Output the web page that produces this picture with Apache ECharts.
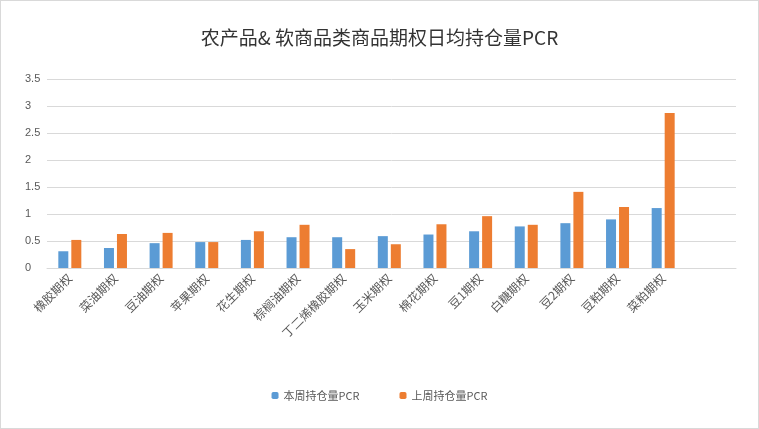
<!DOCTYPE html>
<html><head><meta charset="utf-8">
<script src="https://cdn.jsdelivr.net/npm/echarts@6/dist/echarts.min.js"></script>
<style>body{margin:0}#c{width:757px;height:427px;border:1px solid #d9d9d9}</style>
</head><body><div id="c"></div>
<script>
var categories = ['橡胶期权','菜油期权','豆油期权','苹果期权','花生期权','棕榈油期权','丁二烯橡胶期权','玉米期权','棉花期权','豆1期权','白糖期权','豆2期权','豆粕期权','菜粕期权'];
var thisWeek = [0.31,0.37,0.46,0.48,0.52,0.57,0.57,0.59,0.62,0.68,0.77,0.83,0.90,1.11];
var lastWeek = [0.52,0.63,0.65,0.48,0.68,0.80,0.35,0.44,0.81,0.96,0.80,1.41,1.13,2.87];
var font = '"Noto Sans CJK SC", sans-serif';
var chart = echarts.init(document.getElementById('c'));
chart.setOption({
  animation: false,
  title: {text: '农产品& 软商品类商品期权日均持仓量PCR', left: 'center', top: 22,
    textStyle: {fontSize: 19, fontWeight: 'normal', color: '#333', fontFamily: font}},
  legend: {bottom: 22, itemWidth: 7, itemHeight: 7, itemGap: 40,
    textStyle: {fontSize: 11, color: '#595959', fontFamily: font}},
  grid: [{left: 46, right: 72, top: 78, bottom: 160}, {left: 46, right: 22, top: 78, bottom: 160}],
  xAxis: [{type: 'category', data: categories, gridIndex: 0,
    axisLine: {show: false}, axisTick: {show: false},
    axisLabel: {rotate: 45, fontSize: 12, color: '#595959', fontFamily: font, margin: 8}},
    {type: 'category', gridIndex: 1, data: [''], axisLine: {lineStyle: {color: '#d9d9d9'}}, axisTick: {show: false}, axisLabel: {show: false}}],
  yAxis: [{type: 'value', min: 0, max: 3.5, interval: 0.5, gridIndex: 0,
    axisLine: {show: false}, axisTick: {show: false},
    axisLabel: {fontSize: 11, color: '#595959', margin: 22, align: 'left'},
    splitLine: {show: false}},
    {type: 'value', min: 0, max: 3.5, interval: 0.5, gridIndex: 1,
    axisLine: {show: false}, axisTick: {show: false}, axisLabel: {show: false},
    splitLine: {lineStyle: {color: '#d9d9d9'}}}],
  series: [
    {name: '本周持仓量PCR', type: 'bar', data: thisWeek, barWidth: 10, barGap: '30%', itemStyle: {color: '#5b9bd5'}, z: 3},
    {name: '上周持仓量PCR', type: 'bar', data: lastWeek, barWidth: 10, itemStyle: {color: '#ed7d31'}, z: 3}
  ]
});
</script></body></html>
